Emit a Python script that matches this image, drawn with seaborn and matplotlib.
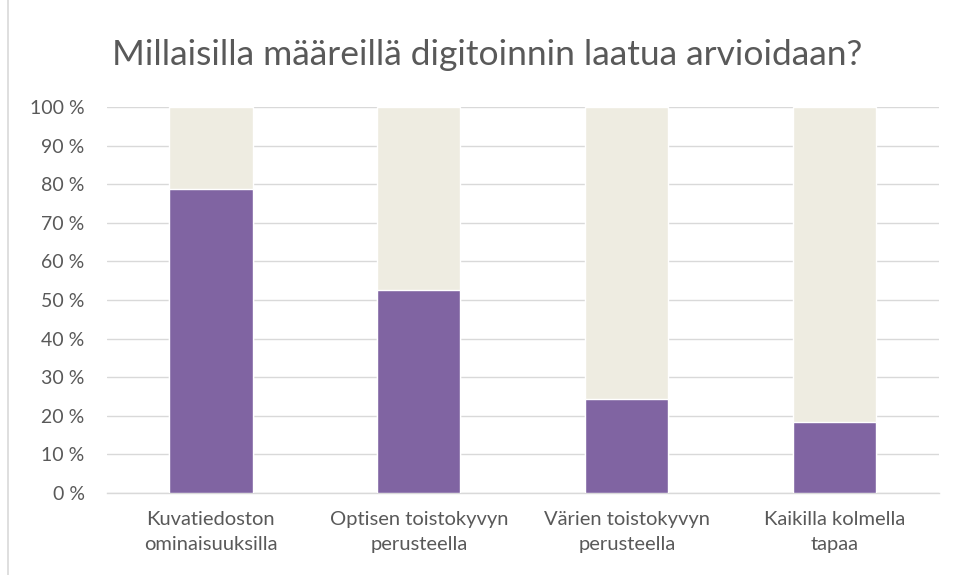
import numpy as np
import pandas as pd
import seaborn as sns
import matplotlib.pyplot as plt
from matplotlib.patches import Rectangle
from matplotlib.ticker import FuncFormatter

# Chart data (percent of respondents)
CATEGORIES = ['Kuvatiedoston\nominaisuuksilla', 'Optisen toistokyvyn\nperusteella',
              'Värien toistokyvyn\nperusteella', 'Kaikilla kolmella\ntapaa']
YES = [78.8, 52.6, 24.3, 18.5]
NO = [21.2, 47.4, 75.7, 81.5]

TITLE = 'Millaisilla määreillä digitoinnin laatua arvioidaan?'
PURPLE = '#8064A2'
TAN = '#EEECE1'
GRAY_TEXT = '#595959'


def main():
    sns.set_style('white')
    plt.rcParams['font.family'] = ['Lato', 'DejaVu Sans']

    df = pd.DataFrame({'cat': CATEGORIES, 'yes': YES, 'no': NO})
    df['total'] = df['yes'] + df['no']

    fig = plt.figure(figsize=(9.55, 5.75), dpi=100)
    ax = fig.add_axes([0.112, 0.1426, 0.871, 0.6713])

    # stacked 100 % look: full bar behind, "yes" part in front
    sns.barplot(data=df, x='cat', y='total', color=TAN, width=0.4,
                saturation=1, ax=ax, zorder=2)
    sns.barplot(data=df, x='cat', y='yes', color=PURPLE, width=0.4,
                saturation=1, ax=ax, zorder=3)

    ax.set_xlim(-0.5, 3.5)
    ax.set_ylim(0, 100)
    ax.set_yticks(np.arange(0, 101, 10))
    ax.yaxis.set_major_formatter(FuncFormatter(lambda v, _: f'{int(v)} %'))
    ax.grid(axis='y', color='#D9D9D9', linewidth=1, zorder=0)
    ax.set_axisbelow(True)
    for side in ['top', 'right', 'left']:
        ax.spines[side].set_visible(False)
    ax.spines['bottom'].set_color('#D9D9D9')
    ax.spines['bottom'].set_linewidth(1)
    ax.tick_params(axis='both', length=0, colors=GRAY_TEXT)
    ax.tick_params(axis='y', pad=16, labelsize=14)
    ax.tick_params(axis='x', pad=13, labelsize=14.5)
    for lbl in ax.get_xticklabels():
        lbl.set_linespacing(1.55)
    ax.set_xlabel('')
    ax.set_ylabel('')

    fig.text(0.51, 0.905, TITLE, ha='center', va='center',
             fontsize=25.5, color=GRAY_TEXT)

    # chart border
    fig.patches.append(Rectangle((0.008, -0.01), 1.1, 1.1, transform=fig.transFigure,
                                 fill=False, edgecolor='#D9D9D9', linewidth=1.2))

    fig.savefig('out.png', dpi=100)


if __name__ == '__main__':
    main()
